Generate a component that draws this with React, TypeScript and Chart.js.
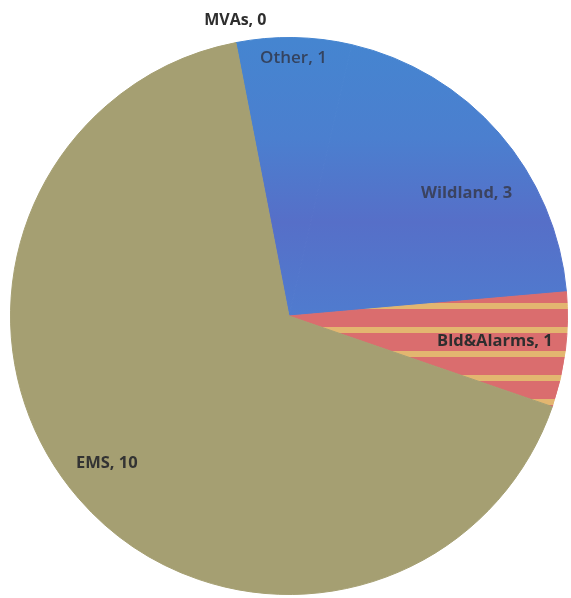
import React, { useEffect, useRef } from "react";
import { Chart, registerables } from "chart.js";

Chart.register(...registerables);

const categories = ["Other", "Wildland", "Bld&Alarms", "EMS", "MVAs"];
const counts = [1, 3, 1, 10, 0];

const sliceColors = ["#4a86cf", "#5a72c8", "#d96a6c", "#a59f72", "#a59f72"];
const labelRadius = [0.925, 0.775, 0.745, 0.842, 1.078];
const labelAngleShift = [0, 6.4, 0, 2, 0.7];
const labelFonts = [
  "600 17px 'Open Sans'",
  "bold 16.5px 'Open Sans'",
  "bold 16.5px 'Open Sans'",
  "bold 16.5px 'Open Sans'",
  "bold 16px 'Open Sans'",
];
const labelColors = ["#34435f", "#3b4360", "#2e2e2e", "#333333", "#2e2e2e"];

function stripePattern(): CanvasPattern | string {
  const c = document.createElement("canvas");
  c.width = 4;
  c.height = 24;
  const g = c.getContext("2d");
  if (!g) return "#dc7d6d";
  g.fillStyle = "#da6d6e";
  g.fillRect(0, 0, 4, 24);
  g.fillStyle = "#e3b670";
  g.fillRect(0, 15, 4, 6);
  const p = g.createPattern(c, "repeat");
  return p || "#dc7d6d";
}

function blueGradient(ctx: CanvasRenderingContext2D): CanvasGradient {
  const gr = ctx.createLinearGradient(0, 40, 0, 320);
  gr.addColorStop(0, "#4585d0");
  gr.addColorStop(0.35, "#4b7fcf");
  gr.addColorStop(0.65, "#566fc8");
  gr.addColorStop(1, "#4f7ccf");
  return gr;
}

const labelPlugin = {
  id: "sliceLabels",
  afterDatasetsDraw(chart: any) {
    const ctx = chart.ctx;
    const meta = chart.getDatasetMeta(0);
    ctx.save();
    ctx.textAlign = "center";
    ctx.textBaseline = "middle";
    meta.data.forEach((arc: any, i: number) => {
      const p = arc.getProps(["x", "y", "startAngle", "endAngle", "outerRadius"], true);
      const mid = (p.startAngle + p.endAngle) / 2 + (labelAngleShift[i] * Math.PI) / 180;
      const r = p.outerRadius * labelRadius[i];
      const x = p.x + Math.cos(mid) * r;
      const y = p.y + Math.sin(mid) * r;
      ctx.font = labelFonts[i];
      ctx.fillStyle = labelColors[i];
      ctx.fillText(`${categories[i]}, ${counts[i]}`, x, y);
    });
    ctx.restore();
  },
};

export default function App() {
  const ref = useRef<HTMLCanvasElement | null>(null);

  useEffect(() => {
    if (!ref.current) return;
    const c2d = ref.current.getContext("2d") as CanvasRenderingContext2D;
    const colors: any[] = sliceColors.slice();
    const blue = blueGradient(c2d);
    colors[0] = blue;
    colors[1] = blue;
    colors[2] = stripePattern();
    const chart = new Chart(ref.current, {
      type: "pie",
      data: {
        labels: categories,
        datasets: [
          {
            data: counts,
            backgroundColor: colors,
            borderColor: colors,
            borderWidth: 1,
          },
        ],
      },
      options: {
        animation: false,
        responsive: false,
        devicePixelRatio: 1,
        rotation: -11,
        layout: { padding: { left: 10, right: 3, top: 37, bottom: 3 } },
        plugins: {
          legend: { display: false },
          tooltip: { enabled: false },
        },
      },
      plugins: [labelPlugin],
    });
    return () => chart.destroy();
  }, []);

  return (
    <div style={{ position: "absolute", left: 0, top: 0, width: 571, height: 598, background: "#ffffff" }}>
      <canvas ref={ref} width={571} height={598} style={{ display: "block" }} />
    </div>
  );
}
